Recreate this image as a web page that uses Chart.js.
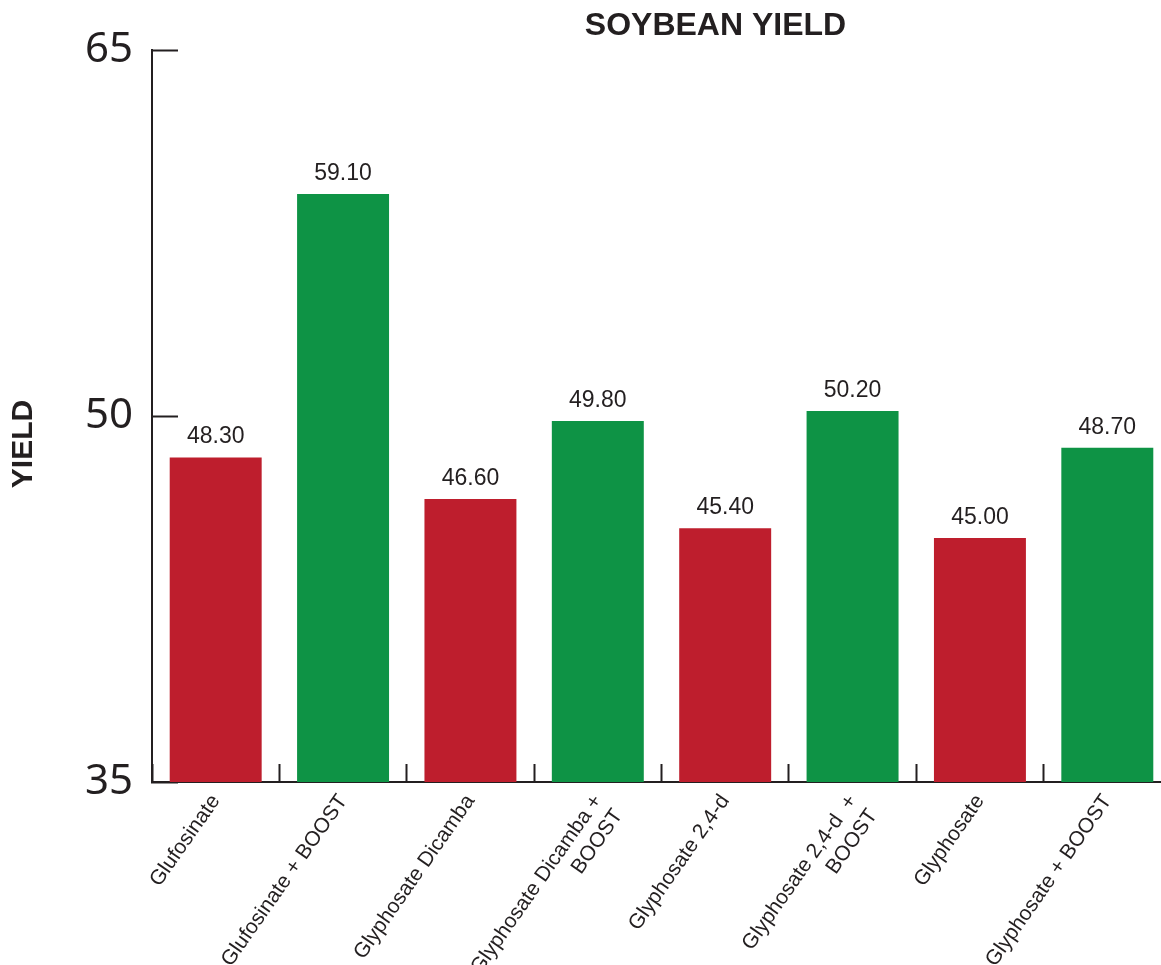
<!DOCTYPE html>
<html>
<head>
  <meta charset="utf-8">
  <title>Soybean Yield</title>
  <script src="https://cdn.jsdelivr.net/npm/chart.js"></script>
  <style>
    html, body { margin: 0; padding: 0; background: #fff; overflow: hidden; }
    #wrap { width: 1180px; height: 965px; position: relative; }
  </style>
</head>
<body>
  <div id="wrap"><canvas id="yieldChart"></canvas></div>

  <script>
    // Chart data
    const treatments = [
      'Glufosinate',
      'Glufosinate + BOOST',
      'Glyphosate Dicamba',
      ['Glyphosate Dicamba +', 'BOOST'],
      'Glyphosate 2,4-d',
      ['Glyphosate 2,4-d  +', 'BOOST'],
      'Glyphosate',
      'Glyphosate + BOOST'
    ];
    const yieldValues = [48.30, 59.10, 46.60, 49.80, 45.40, 50.20, 45.00, 48.70];
    const barColors = ['#be1e2d', '#0e9345', '#be1e2d', '#0e9345', '#be1e2d', '#0e9345', '#be1e2d', '#0e9345'];
    const yTicks = [35, 50, 65];

    const ink = '#231f20';

    // value labels above the bars + rotated y title + title nudge
    const extrasPlugin = {
      id: 'extras',
      afterLayout(chart) {
        if (chart.titleBlock) {
          chart.titleBlock.left = 260;
        }
      },
      afterDatasetsDraw(chart) {
        const ctx = chart.ctx;
        const meta = chart.getDatasetMeta(0);
        ctx.save();
        ctx.fillStyle = ink;
        ctx.font = '23px "Liberation Sans", Arial, sans-serif';
        ctx.textAlign = 'center';
        ctx.textBaseline = 'bottom';
        meta.data.forEach((bar, i) => {
          ctx.fillText(yieldValues[i].toFixed(2), bar.x, bar.y - 9);
        });
        ctx.restore();
      },
      afterDraw(chart) {
        const ctx = chart.ctx;
        const area = chart.chartArea;
        ctx.save();
        ctx.fillStyle = ink;
        ctx.font = 'bold 30px "Liberation Sans", Arial, sans-serif';
        ctx.textAlign = 'center';
        ctx.textBaseline = 'middle';
        ctx.translate(area.left - 128, (area.top + area.bottom) / 2 + 28);
        ctx.rotate(-Math.PI / 2);
        ctx.fillText('YIELD', 0, 0);
        ctx.restore();
      }
    };

    new Chart(document.getElementById('yieldChart'), {
      type: 'bar',
      data: {
        labels: treatments,
        datasets: [{
          label: 'Yield',
          data: yieldValues,
          backgroundColor: barColors,
          borderWidth: 0,
          categoryPercentage: 1,
          barPercentage: 0.722
        }]
      },
      options: {
        responsive: true,
        maintainAspectRatio: false,
        animation: false,
        layout: { padding: { left: 0, right: 9, top: 0, bottom: 0 } },
        plugins: {
          legend: { display: false },
          tooltip: { enabled: false },
          title: {
            display: true,
            text: 'SOYBEAN YIELD',
            color: ink,
            font: { family: '"Liberation Sans", Arial, sans-serif', size: 32, weight: 'bold', lineHeight: 1.0 },
            padding: { top: 10, bottom: 8 }
          }
        },
        scales: {
          x: {
            border: { color: ink, width: 2 },
            grid: {
              display: true,
              offset: true,
              drawOnChartArea: false,
              drawTicks: true,
              tickLength: -18,
              tickWidth: 2,
              tickColor: ink
            },
            ticks: {
              color: ink,
              font: { family: '"Liberation Sans", Arial, sans-serif', size: 21 },
              minRotation: 55,
              maxRotation: 55,
              padding: 26,
              autoSkip: false
            },
            afterFit(scale) {
              scale.height = 183;
              scale.paddingLeft = 0;
              scale.paddingRight = 0;
            }
          },
          y: {
            min: 35,
            max: 65,
            border: { color: ink, width: 2 },
            grid: {
              drawOnChartArea: false,
              drawTicks: true,
              tickLength: -26,
              tickWidth: 2,
              tickColor: ink
            },
            afterBuildTicks(scale) {
              scale.ticks = yTicks.map(v => ({ value: v }));
            },
            ticks: {
              color: ink,
              font: { family: '"Noto Sans", "Open Sans", sans-serif', size: 42 },
              padding: 45
            },
            afterFit(scale) {
              scale.width = 152;
              scale.paddingTop = 0;
              scale.paddingBottom = 0;
            }
          }
        }
      },
      plugins: [extrasPlugin]
    });
  </script>
</body>
</html>
